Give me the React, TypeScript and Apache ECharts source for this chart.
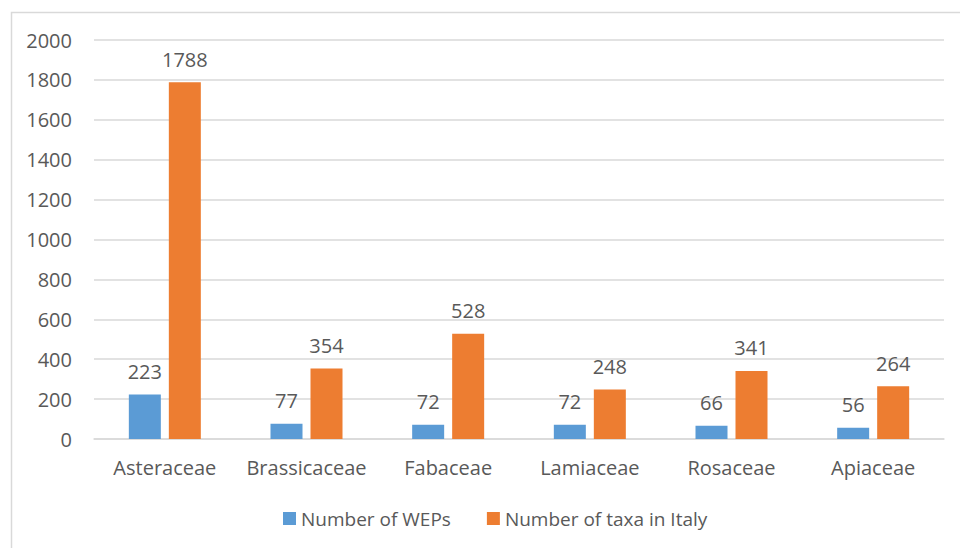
import React, { useEffect, useRef } from "react";
import * as echarts from "echarts";

const categories = ["Asteraceae", "Brassicaceae", "Fabaceae", "Lamiaceae", "Rosaceae", "Apiaceae"];
const wepValues = [223, 77, 72, 72, 66, 56];
const taxaValues = [1788, 354, 528, 248, 341, 264];
const seriesNames = ["Number of WEPs", "Number of taxa in Italy"];

const FONT = "'Open Sans', 'Liberation Sans', sans-serif";
const TEXT = "#595959";
const GRID = "#D9D9D9";

export default function App() {
  const ref = useRef<HTMLDivElement>(null);
  useEffect(() => {
    if (!ref.current) return;
    const chart = echarts.init(ref.current, undefined, { renderer: "svg" });
    const label = {
      show: true,
      position: "top" as const,
      distance: 13,
      color: TEXT,
      fontSize: 20,
      fontFamily: FONT,
    };
    chart.setOption({
      animation: false,
      backgroundColor: "#ffffff",
      textStyle: { fontFamily: FONT },
      graphic: [
        {
          type: "rect",
          shape: { x: 11.5, y: 12.5, width: 1000, height: 600 },
          style: { fill: "none", stroke: GRID, lineWidth: 1.5 },
          silent: true,
        },
      ],
      legend: {
        left: 278,
        top: 504,
        icon: "rect",
        itemWidth: 13,
        itemHeight: 13,
        itemGap: 36,
        textStyle: { color: TEXT, fontSize: 19, fontFamily: FONT },
        data: seriesNames,
      },
      grid: { left: 94, right: 16, top: 40, bottom: 109, containLabel: false },
      xAxis: {
        type: "category",
        data: categories,
        axisTick: { show: false },
        axisLine: { lineStyle: { color: GRID, width: 1.5 } },
        axisLabel: { color: TEXT, fontSize: 20, fontFamily: FONT, margin: 18, interval: 0 },
      },
      yAxis: {
        type: "value",
        min: 0,
        max: 2000,
        interval: 200,
        axisLine: { show: false },
        axisTick: { show: false },
        splitLine: { lineStyle: { color: GRID, width: 1.5 } },
        axisLabel: {
          color: TEXT,
          fontSize: 20,
          fontFamily: FONT,
          margin: 22,
          formatter: (v: number) => String(v),
        },
      },
      series: [
        {
          name: seriesNames[0],
          type: "bar",
          data: wepValues,
          barWidth: 32,
          barGap: "25%",
          itemStyle: { color: "#5B9BD5" },
          label,
        },
        {
          name: seriesNames[1],
          type: "bar",
          data: taxaValues,
          barWidth: 32,
          barGap: "25%",
          itemStyle: { color: "#ED7D31" },
          label,
        },
      ],
    });
    return () => chart.dispose();
  }, []);
  return (
    <div
      ref={ref}
      style={{ position: "fixed", left: 0, top: 0, width: 960, height: 548, background: "#fff" }}
    />
  );
}
